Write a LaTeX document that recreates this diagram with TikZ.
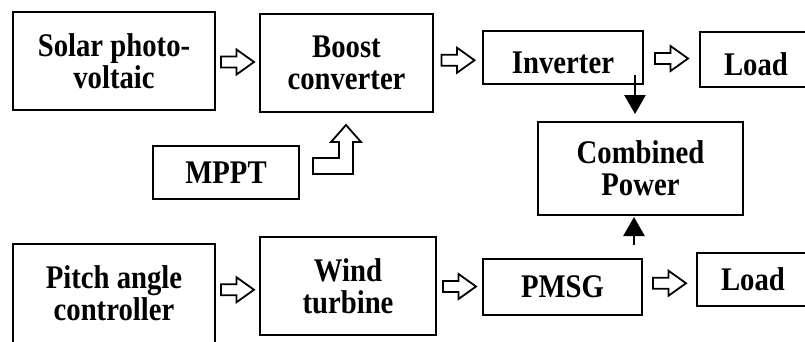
\documentclass[tikz,border=0pt]{standalone}
\usepackage{fontspec}
\setmainfont{Liberation Serif}[FakeStretch=0.87]
\usetikzlibrary{arrows.meta,calc}

\begin{document}
\begin{tikzpicture}[x=1pt, y=1pt,
    block/.style={rectangle, draw=black, line width=2pt, align=center,
      inner sep=0pt, font=\bfseries\fontsize{33}{32}\selectfont},
    lowtext/.style={text height=31pt, text depth=0pt},
    solidarrow/.style={line width=2.6pt, -{Triangle[width=21pt,length=19pt]}},
    hollow/.style={draw=black, line width=1.8pt, line join=miter, fill=white},
    pics/blockarrow/.style={code={
      \draw[hollow] (-16.5,-5.5) -- (-1,-5.5) -- (-1,-12.5) -- (16.5,0)
        -- (-1,12.5) -- (-1,5.5) -- (-16.5,5.5) -- cycle;}}
  ]
  \useasboundingbox (0,0) rectangle (805,341);

  % solar branch
  \node[block, minimum width=202pt, minimum height=98pt] (solar) at (114,280) {Solar photo-\\voltaic};
  \node[block, minimum width=173pt, minimum height=98pt] (boost) at (346.5,278) {Boost\\converter};
  \node[block, lowtext, minimum width=160pt, minimum height=53pt] (inverter) at (563,283.5) {Inverter};
  \node[block, lowtext, minimum width=112pt, minimum height=55pt] (loadtop) at (756,281.5) {Load};
  \node[block, minimum width=146pt, minimum height=53pt] (mppt) at (226,168.5) {MPPT};

  % combining block
  \node[block, minimum width=205pt, minimum height=93pt] (combined) at (640.5,172.5) {Combined\\Power};

  % wind branch
  \node[block, minimum width=202pt, minimum height=99pt] (pitch) at (114,47.5) {Pitch angle\\controller};
  \node[block, minimum width=176pt, minimum height=98pt] (wind) at (348,55) {Wind\\turbine};
  \node[block, minimum width=159pt, minimum height=56pt] (pmsg) at (562.5,54) {PMSG};
  \node[block, minimum width=112pt, minimum height=53pt] (loadbot) at (753,61.5) {Load};

  % hollow arrows
  \pic at ($(solar.east)!0.5!(boost.west)$ |- boost) {blockarrow};
  \pic at ($(boost.east)!0.5!(inverter.west)$ |- boost) {blockarrow};
  \pic at ($(inverter.east)!0.5!(loadtop.west)$ |- boost) {blockarrow};
  \pic at ($(pitch.east)!0.5!(wind.west)$ |- wind) {blockarrow};
  \pic at ($(wind.east)!0.5!(pmsg.west)$ |- wind) {blockarrow};
  \pic at ($(pmsg.east)!0.5!(loadbot.west)$) {blockarrow};

  % MPPT to boost converter
  \coordinate (lbase) at ([shift={(13,-1.5)}]mppt.east);
  \draw[hollow] (lbase) -- ++(40,0) -- ++(0,32) -- ++(8,0) -- ++(-15,17)
    -- ++(-15,-17) -- ++(8,0) -- ++(0,-16) -- ++(-26,0) -- cycle;

  % into combined power
  \coordinate (invout) at ([shift={(-9,10)}]inverter.south east);
  \coordinate (pmsgout) at ([shift={(-9,13)}]pmsg.north east);
  \draw[solidarrow] (invout) -- ([yshift=7pt]invout |- combined.north);
  \draw[solidarrow] (pmsgout) -- ([yshift=-1pt]pmsgout |- combined.south);
\end{tikzpicture}
\end{document}
